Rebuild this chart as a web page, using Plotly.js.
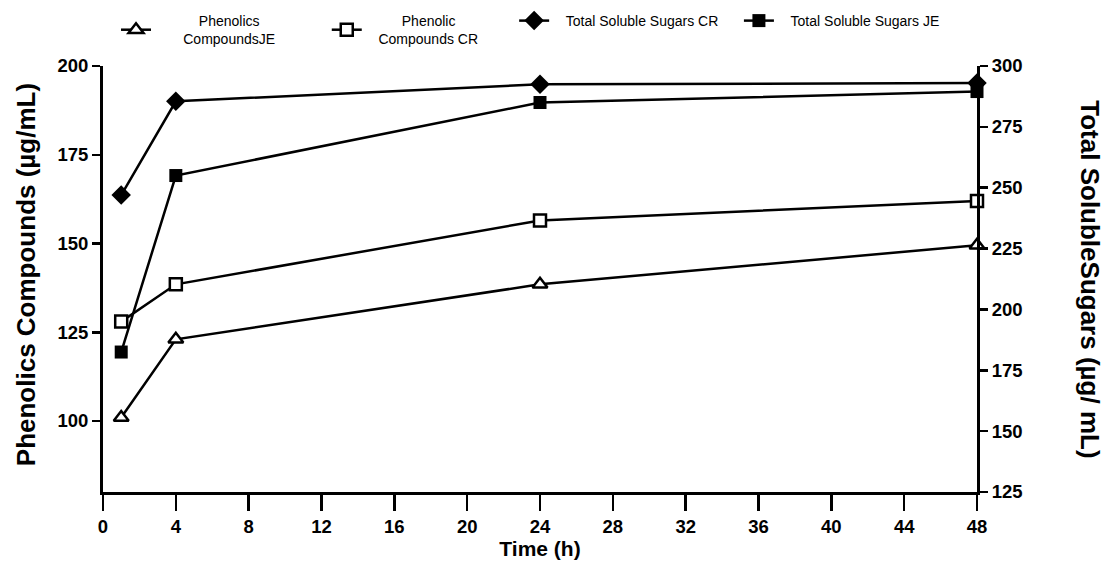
<!DOCTYPE html>
<html>
<head>
<meta charset="utf-8">
<script src="https://cdn.plot.ly/plotly-3.0.1.min.js"></script>
<style>html,body{margin:0;padding:0;background:#fff;}#chart{width:1107px;height:569px;}</style>
</head>
<body>
<div id="chart"></div>
<script>
const timeH = [1, 4, 24, 48];
const phenolicsJE = [101, 123, 138.5, 149.5];
const phenolicCR = [128, 138.5, 156.5, 162];
const sugarsCR = [247, 285.5, 292.5, 293];
const sugarsJE = [182.5, 255, 285, 289.5];

function sp(n) { return '&nbsp;'.repeat(n); }
const names = [
  sp(11) + 'Phenolics<br>' + sp(7) + 'CompoundsJE' + sp(12),
  sp(9) + 'Phenolic<br>' + sp(3) + 'Compounds CR' + sp(8),
  sp(3) + 'Total Soluble Sugars CR' + sp(4),
  sp(3) + 'Total Soluble Sugars JE'
];

const FONT = 'Liberation Sans, Arial, sans-serif';
const lineStyle = {color: 'black', width: 2.5};

const traces = [
  {x: timeH, y: phenolicsJE, name: names[0], mode: 'lines+markers', yaxis: 'y', cliponaxis: false,
   line: lineStyle, marker: {symbol: 'triangle-up', size: 13, color: 'white', line: {color: 'black', width: 2.5}}},
  {x: timeH, y: phenolicCR, name: names[1], mode: 'lines+markers', yaxis: 'y', cliponaxis: false,
   line: lineStyle, marker: {symbol: 'square', size: 12, color: 'white', line: {color: 'black', width: 2.5}}},
  {x: timeH, y: sugarsCR, name: names[2], mode: 'lines+markers', yaxis: 'y2', cliponaxis: false,
   line: lineStyle, marker: {symbol: 'diamond', size: 15, color: 'black', line: {color: 'black', width: 0}}},
  {x: timeH, y: sugarsJE, name: names[3], mode: 'lines+markers', yaxis: 'y2', cliponaxis: false,
   line: lineStyle, marker: {symbol: 'square', size: 13, color: 'black', line: {color: 'black', width: 0}}}
];

const axisCommon = {
  showgrid: false, zeroline: false, showline: true, linecolor: 'black', linewidth: 3,
  ticks: 'outside', tickcolor: 'black', tickwidth: 2.5, automargin: false,
  tickfont: {family: FONT, size: 18.5, color: 'black', weight: 'bold'}
};

const layout = {
  width: 1107, height: 569,
  margin: {l: 103, r: 130, t: 66, b: 77, pad: 0, autoexpand: false},
  paper_bgcolor: 'white', plot_bgcolor: 'white',
  showlegend: true,
  legend: {orientation: 'h', x: 0.0149, xanchor: 'left', y: 1.0845, yanchor: 'middle',
           font: {family: FONT, size: 14, color: 'black'}, bgcolor: 'rgba(0,0,0,0)', traceorder: 'normal'},
  xaxis: Object.assign({}, axisCommon, {
    range: [0, 48], tick0: 0, dtick: 4, ticklen: 16,
    title: {text: 'Time (h)', standoff: 4, font: {family: FONT, size: 21, color: 'black', weight: 'bold'}}
  }),
  yaxis: Object.assign({}, axisCommon, {
    range: [80, 200], tick0: 0, dtick: 25, ticklen: 8
  }),
  yaxis2: Object.assign({}, axisCommon, {
    range: [125, 300], tick0: 0, dtick: 25, ticklen: 8,
    overlaying: 'y', side: 'right'
  }),
  annotations: [
    {text: 'Phenolics Compounds (µg/mL)', xref: 'paper', yref: 'paper', x: -0.0887, y: 0.51,
     xanchor: 'center', yanchor: 'middle', textangle: -90, showarrow: false,
     font: {family: FONT, size: 26, color: 'black', weight: 'bold'}},
    {text: 'Total SolubleSugars (µg/ mL)', xref: 'paper', yref: 'paper', x: 1.129, y: 0.5,
     xanchor: 'center', yanchor: 'middle', textangle: 90, showarrow: false,
     font: {family: FONT, size: 26, color: 'black', weight: 'bold'}}
  ]
};

Plotly.newPlot('chart', traces, layout, {displayModeBar: false, staticPlot: true});
</script>
</body>
</html>
